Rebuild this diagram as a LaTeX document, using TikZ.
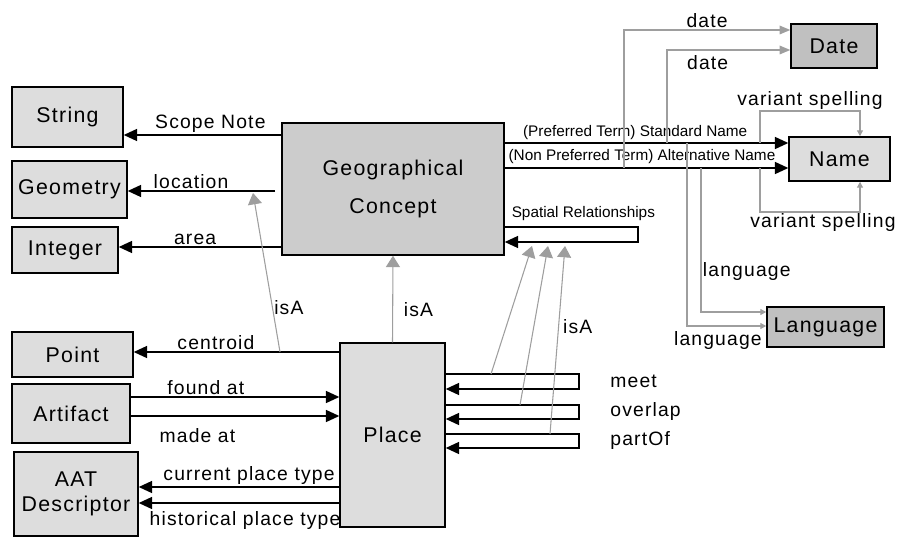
\documentclass[tikz,border=0pt]{standalone}
\usepackage{fontspec}
\setmainfont{Liberation Sans}
\newfontfamily\spacedfont{Liberation Sans}[LetterSpace=6.0]
\definecolor{boxgray}{RGB}{221,221,221}
\definecolor{conceptgray}{RGB}{204,204,204}
\definecolor{darkgray}{RGB}{192,192,192}
\definecolor{linkgray}{RGB}{158,158,158}
\usetikzlibrary{shapes,arrows.meta}
\tikzstyle{block} = [rectangle, draw, fill=boxgray, line width=1.1pt,
    inner sep=0pt, align=center, font=\spacedfont\fontsize{16}{19}\selectfont]
\tikzstyle{darkblock} = [block, fill=darkgray]
\tikzstyle{line} = [draw, line width=1.1pt, -{Triangle[length=10pt, width=9pt]}]
\tikzstyle{isaline} = [draw, linkgray, line width=0.8pt, -{Triangle[length=8.5pt, width=10.5pt]}]
\tikzstyle{dateline} = [draw, linkgray, line width=0.9pt, -{Triangle[length=8pt, width=6.5pt]}]
\tikzstyle{smallline} = [draw, linkgray, line width=0.9pt, -{Triangle[length=4.5pt, width=4.5pt]}]
\tikzstyle{lbl} = [font=\spacedfont\fontsize{14.5}{17}\selectfont, inner sep=1pt, text=black]
\tikzstyle{smalllbl} = [font=\fontsize{11.5}{13}\selectfont, inner sep=1pt]

\begin{document}
\begin{tikzpicture}[x=0.75pt, y=-0.75pt]
  \useasboundingbox (0,0) rectangle (899,538);
  \node [block, minimum width=83.25pt, minimum height=45pt] (string) at (67.5,117) {String};
  \node [block, minimum width=86.25pt, minimum height=42.75pt] (geometry) at (69.5,189.5) {Geometry};
  \node [block, minimum width=79.5pt, minimum height=34.5pt] (integer) at (65,250) {Integer};
  \node [block, minimum width=90.75pt, minimum height=33.75pt] (point) at (72.5,354.5) {Point};
  \node [block, minimum width=88.5pt, minimum height=44.25pt] (artifact) at (71,413.5) {Artifact};
  \node [block, minimum width=93pt, minimum height=63pt] (aat) at (76,494) {AAT\\Descriptor};
  \node [block, fill=conceptgray, minimum width=166.5pt, minimum height=99pt,
      font=\spacedfont\fontsize{16}{29}\selectfont] (concept) at (393,189) {Geographical\\Concept};
  \node [block, minimum width=78.75pt, minimum height=138pt] (place) at (392.5,435) {Place};
  \node [darkblock, minimum width=64.5pt, minimum height=33pt] (date) at (834,46) {Date};
  \node [block, minimum width=75.75pt, minimum height=33pt] (name) at (839.5,159) {Name};
  \node [darkblock, minimum width=87.75pt, minimum height=30pt] (language) at (825.5,327) {Language};

  \coordinate (locstart) at (275,191);
  \coordinate (locisa) at (253,193);
  \coordinate (centroidisa) at (280,352);
  \coordinate (meetisa) at (491,374);
  \coordinate (overlapisa) at (520,405);
  \coordinate (partofisa) at (550,434);
  \coordinate (spatial1) at (532,246);
  \coordinate (spatial2) at (548,246);
  \coordinate (spatial3) at (565,246);
  \coordinate (std1) at (667,143);
  \coordinate (std2) at (687,143);
  \coordinate (std3) at (760,143);
  \coordinate (alt1) at (624,168);
  \coordinate (alt2) at (701,168);
  \coordinate (alt3) at (760,168);

  \path [line] (concept.west |- 0,135) -- node[lbl, above, pos=0.45] {Scope Note} (string.east |- 0,135);
  \path [line] (locstart) -- node[lbl, above, pos=0.57] {location} (geometry.east |- 0,191);
  \path [line] (concept.west |- 0,247) -- node[lbl, above, pos=0.53] {area} (integer.east |- 0,247);
  \path [line] (place.west |- 0,352) -- node[lbl, above, pos=0.6] {centroid} (point.east |- 0,352);
  \path [line] (artifact.east |- 0,397) -- node[lbl, above, pos=0.36] {found at} (place.west |- 0,397);
  \path [line] (artifact.east |- 0,416) -- node[lbl, below=8pt, pos=0.32] {made at} (place.west |- 0,416);
  \path [line] (place.west |- 0,487) -- node[lbl, above, pos=0.45] {current place type} (aat.east |- 0,487);
  \path [line] (place.west |- 0,503) -- node[lbl, below=4.5pt, pos=0.47] {historical place type} (aat.east |- 0,503);

  \path [line] (concept.east |- 0,227) -- node[smalllbl, above=3pt, pos=0.59] {Spatial Relationships} (638,227)
      -- (638,242) -- (concept.east |- 0,242);
  \path [line] (place.east |- 0,374) -- (579,374) -- node[lbl, right=22pt] {meet} (579,389) -- (place.east |- 0,389);
  \path [line] (place.east |- 0,405) -- (579,405) -- node[lbl, right=22pt] {overlap} (579,419) -- (place.east |- 0,419);
  \path [line] (place.east |- 0,434) -- (579,434) -- node[lbl, right=22pt] {partOf} (579,448) -- (place.east |- 0,448);

  \path [line] (concept.east |- 0,143) -- node[smalllbl, above=1pt, pos=0.46] {(Preferred Term) Standard Name} (name.west |- 0,143);
  \path [line] (concept.east |- 0,168) -- node[smalllbl, above=2pt, pos=0.484] {(Non Preferred Term) Alternative Name} (name.west |- 0,168);

  \path [isaline] (place.north) -- node[lbl, right=7pt, pos=0.375] {isA} (concept.south);
  \path [isaline] (centroidisa) -- node[lbl, right, pos=0.28] {isA} (locisa);
  \path [isaline] (meetisa) -- (spatial1);
  \path [isaline] (overlapisa) -- (spatial2);
  \path [isaline] (partofisa) -- node[lbl, right=2pt, pos=0.57] {isA} (spatial3);

  \path [dateline] (alt1) -- (alt1 |- 0,30) -- node[lbl, above, pos=0.5] {date} (date.west |- 0,30);
  \path [dateline] (std1) -- (std1 |- 0,50) -- node[lbl, below=3pt, pos=0.33] {date} (date.west |- 0,50);
  \path [smallline] (std2) -- (std2 |- 0,326) -- node[lbl, below=3pt, pos=0.39] {language} (language.west |- 0,326);
  \path [smallline] (alt2) -- node[lbl, right, pos=0.72] {language} (alt2 |- 0,312) -- (language.west |- 0,312);
  \path [smallline] (std3) -- (std3 |- 0,111) -- node[lbl, above, pos=0.5] {variant spelling} (860,111) -- (name.north -| 860,0);
  \path [smallline] (alt3) -- (alt3 |- 0,212) -- node[lbl, below, pos=0.63] {variant spelling} (860,212) -- (name.south -| 860,0);
\end{tikzpicture}
\end{document}
